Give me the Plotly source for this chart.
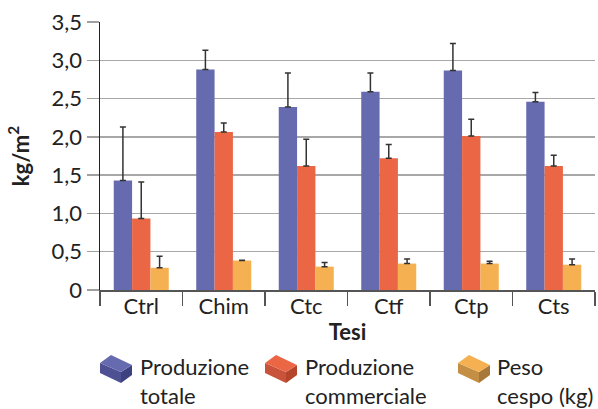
import plotly.graph_objects as go

categories = ["Ctrl", "Chim", "Ctc", "Ctf", "Ctp", "Cts"]
series_names = ["Produzione<br>totale", "Produzione<br>commerciale", "Peso<br>cespo (kg)"]
prod_totale = [1.43, 2.88, 2.39, 2.59, 2.865, 2.46]
prod_totale_err = [0.70, 0.25, 0.445, 0.245, 0.355, 0.12]
prod_comm = [0.935, 2.065, 1.62, 1.72, 2.01, 1.62]
prod_comm_err = [0.475, 0.115, 0.35, 0.18, 0.22, 0.14]
peso_cespo = [0.29, 0.385, 0.305, 0.345, 0.345, 0.33]
peso_cespo_err = [0.15, 0.005, 0.055, 0.06, 0.03, 0.075]
tick_vals = [0, 0.5, 1.0, 1.5, 2.0, 2.5, 3.0, 3.5]
tick_text = ["0", "0,5", "1,0", "1,5", "2,0", "2,5", "3,0", "3,5"]

colors = ["#666BAF", "#EB6645", "#F5B051"]
dark = ["#3E4180", "#B4442A", "#A8783A"]
mid = ["#4D5194", "#C9533A", "#C48F45"]

FONT = "Lato"
FS = 22
W, H = 598, 409
L, R, T, B = 100, 3, 22, 119
pw, ph = W - L - R, H - T - B

fig = go.Figure()
for vals, errs, col in zip([prod_totale, prod_comm, peso_cespo],
                           [prod_totale_err, prod_comm_err, peso_cespo_err], colors):
    fig.add_trace(go.Bar(
        x=categories, y=vals, marker=dict(color=col, line=dict(width=0)),
        error_y=dict(type="data", array=errs, arrayminus=[0] * len(errs),
                     symmetric=False, color="#333333", thickness=1.5, width=3),
        showlegend=False, hoverinfo="skip",
    ))

def px2paper(x, y):
    return (x - L) / pw, (H - B - y) / ph

shapes = []
annotations = []
legend_x = [100, 265, 458]
text_x = [138, 303, 495]
icon_top = 355
for i in range(3):
    x0 = legend_x[i]
    def P(dx, dy):
        xp, yp = px2paper(x0 + dx, icon_top + dy)
        return f"{xp:.5f},{yp:.5f}"
    faces = [
        ([(0, 8), (21, 17), (21, 28), (0, 18)], mid[i]),
        ([(21, 17), (32, 10), (32, 20), (21, 28)], dark[i]),
        ([(0, 8), (11, 0), (32, 10), (21, 17)], colors[i]),
    ]
    for pts, c in faces:
        path = "M" + " L".join(P(a, b) for a, b in pts) + " Z"
        shapes.append(dict(type="path", xref="paper", yref="paper", path=path,
                           fillcolor=c, line=dict(width=0)))
    xp, yp = px2paper(text_x[i], 351)
    annotations.append(dict(x=xp, y=yp, xref="paper", yref="paper", xanchor="left",
                            yanchor="top", align="left", showarrow=False,
                            text=series_names[i],
                            font=dict(family=FONT, size=FS, color="#222222")))

fig.update_layout(
    width=W, height=H, margin=dict(l=L, r=R, t=T, b=B, autoexpand=False),
    barmode="group", bargap=0.333, bargroupgap=0,
    plot_bgcolor="white", paper_bgcolor="white",
    font=dict(family=FONT, size=FS, color="#222222"),
    shapes=shapes, annotations=annotations, hovermode=False,
    xaxis=dict(
        type="category", tickson="boundaries", ticks="outside", ticklen=14,
        tickcolor="#555555", tickwidth=1.5, showline=True, linecolor="#555555",
        linewidth=2, showgrid=False, ticklabelstandoff=-4, automargin=False,
        tickfont=dict(family=FONT, size=FS, color="#222222"),
        title=dict(text="<b>Tesi</b>", standoff=6,
                   font=dict(family=FONT, size=FS, color="#222222")),
    ),
    yaxis=dict(
        range=[0, 3.5], tickvals=tick_vals, ticktext=tick_text, automargin=False,
        ticks="outside", ticklen=12, tickcolor="#a0a0a0", tickwidth=1.5,
        showgrid=True, gridcolor="#a8a8a8", gridwidth=1.5, zeroline=False,
        showline=True, linecolor="#222222", linewidth=1.5,
        tickfont=dict(family=FONT, size=FS, color="#222222"),
        title=dict(text="<b>kg/m<sup>2</sup></b>", standoff=16,
                   font=dict(family=FONT, size=FS, color="#222222")),
    ),
)

fig.write_html("out.html", config={"displayModeBar": False, "staticPlot": True},
               post_script="document.body.style.margin='0';document.body.style.overflow='hidden';")
